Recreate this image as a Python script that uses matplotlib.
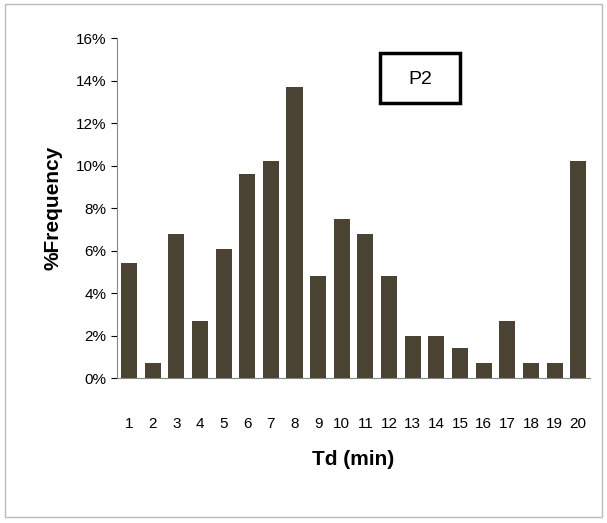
import matplotlib.pyplot as plt
from matplotlib.patches import Rectangle
from matplotlib.ticker import FuncFormatter

td_minutes = list(range(1, 21))
freq_pct = [5.4, 0.7, 6.8, 2.7, 6.1, 9.6, 10.2, 13.7, 4.8, 7.5,
            6.8, 4.8, 2.0, 2.0, 1.4, 0.7, 2.7, 0.7, 0.7, 10.2]

plt.rcParams['font.family'] = ['Liberation Sans', 'DejaVu Sans']

fig = plt.figure(figsize=(6.07, 5.23), dpi=100)
ax = fig.add_axes([0.193, 0.277, 0.779, 0.65])

ax.bar(td_minutes, freq_pct, width=0.68, color='#4a4232')
ax.set_xlim(0.5, 20.5)
ax.set_ylim(0, 16)
ax.set_yticks(range(0, 17, 2))
ax.yaxis.set_major_formatter(FuncFormatter(lambda v, _: f"{v:.0f}%"))
ax.set_xticks(td_minutes)
ax.tick_params(axis='x', length=0, pad=28, labelsize=11)
ax.tick_params(axis='y', labelsize=11, length=4, direction='out')
for s in ('top', 'right'):
    ax.spines[s].set_visible(False)
ax.spines['left'].set_color('#888888')
ax.spines['bottom'].set_color('#888888')

ax.set_xlabel("Td (min)", fontsize=15, fontweight='bold', labelpad=14)
ax.set_ylabel("%Frequency", fontsize=15, fontweight='bold', labelpad=10)

# P2 label box (pixel box ~380-460 x 53-103)
fig.patches.append(Rectangle((380 / 607, 1 - 103 / 523), 80 / 607, 50 / 523,
                             transform=fig.transFigure, fill=True, fc='white',
                             ec='black', lw=2.5, zorder=5))
fig.text(420 / 607, 1 - 80 / 523, "P2", fontsize=14, ha='center', va='center', zorder=6)

fig.patches.append(Rectangle((0.008, 0.012), 0.984, 0.98, transform=fig.transFigure,
                             fill=False, ec='#bbbbbb', lw=1))

fig.savefig("out.png", dpi=100)
